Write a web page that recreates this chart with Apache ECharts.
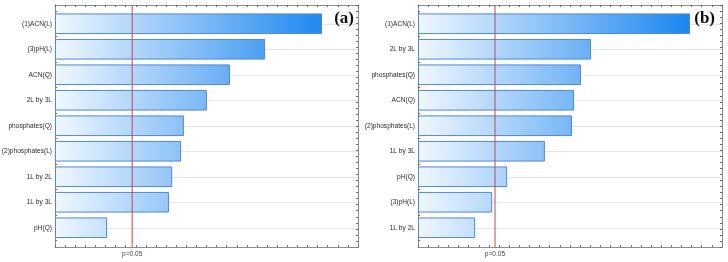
<!DOCTYPE html>
<html>
<head>
<meta charset="utf-8">
<script src="https://cdn.jsdelivr.net/npm/echarts@6/dist/echarts.min.js"></script>
<style>
html,body{margin:0;padding:0;background:#fff;}
#c{width:728px;height:262px;}
</style>
</head>
<body>
<div id="c"></div>
<script>
// ---- data ----
var catsA = ['(1)ACN(L)', '(3)pH(L)', 'ACN(Q)', '2L by 3L', 'phosphates(Q)', '(2)phosphates(L)', '1L by 2L', '1L by 3L', 'pH(Q)'];
var valsA = [6.61, 5.20, 4.33, 3.76, 3.19, 3.12, 2.90, 2.82, 1.29];
var catsB = ['(1)ACN(L)', '2L by 3L', 'phosphates(Q)', 'ACN(Q)', '(2)phosphates(L)', '1L by 3L', 'pH(Q)', '(3)pH(L)', '1L by 2L'];
var valsB = [6.71, 4.27, 4.02, 3.85, 3.80, 3.13, 2.20, 1.83, 1.41];
var pCritA = 1.91;
var pCritB = 1.90;
var pLabel = 'p=0.05';
var panelTags = ['(a)', '(b)'];
var xMax = 7.5;

// ---- styling helpers ----
var FONT = 'Liberation Sans, Arial, sans-serif';
var RED = '#cc4444';
var c0 = [240, 247, 255], c1 = [2, 121, 238];
function mix(f) {
  f = Math.max(0, Math.min(1, f));
  var r = Math.round(c0[0] + (c1[0] - c0[0]) * f);
  var g = Math.round(c0[1] + (c1[1] - c0[1]) * f);
  var b = Math.round(c0[2] + (c1[2] - c0[2]) * f);
  return 'rgb(' + r + ',' + g + ',' + b + ')';
}
function barColor(p) {
  var f = p.value / xMax;
  return new echarts.graphic.LinearGradient(0, 0, 1, 0, [
    {offset: 0, color: mix(0)},
    {offset: 1, color: mix(f)}
  ]);
}

var grids = [], xAxes = [], yAxes = [], series = [], titles = [];
function addPanel(left, width, cats, vals, pCrit, tag, tagRight) {
  var gFrame = grids.length;
  grids.push({left: left, top: 5, width: width, height: 242, outerBoundsMode: 'none', containLabel: false});
  var gBars = grids.length;
  grids.push({left: left, top: 11, width: width, height: 229.5, outerBoundsMode: 'none', containLabel: false});

  var xb = xAxes.length;
  function frameX(pos, withLabel) {
    return {
      type: 'value', gridIndex: gFrame, min: 0, max: xMax, interval: 0.25, position: pos,
      axisLine: {show: true, onZero: false, lineStyle: {color: '#8c8c8c', width: 1}},
      axisTick: {show: true, inside: true, length: 2, lineStyle: {color: '#666'}},
      axisLabel: withLabel ? {
        show: true, customValues: [pCrit], formatter: function () { return pLabel; },
        fontSize: 6.6, color: '#444', fontFamily: FONT, margin: 4
      } : {show: false},
      splitLine: {show: false}
    };
  }
  xAxes.push(frameX('bottom', true));
  xAxes.push(frameX('top', false));
  xAxes.push({type: 'value', gridIndex: gBars, min: 0, max: xMax, show: false});

  var yb = yAxes.length;
  yAxes.push({
    type: 'value', gridIndex: gFrame, min: 0, max: 1, position: 'left',
    axisLine: {show: true, onZero: false, lineStyle: {color: '#8c8c8c', width: 1}},
    axisTick: {show: false}, axisLabel: {show: false}, splitLine: {show: false}
  });
  yAxes.push({
    type: 'value', gridIndex: gFrame, min: 0, max: 1, interval: 0.025, position: 'right',
    axisLine: {show: true, onZero: false, lineStyle: {color: '#8c8c8c', width: 1}},
    axisTick: {show: true, inside: true, length: 2, lineStyle: {color: '#666'}},
    axisLabel: {show: false}, splitLine: {show: false}
  });
  yAxes.push({
    type: 'category', gridIndex: gBars, data: cats, inverse: true, position: 'left',
    axisLine: {show: false},
    axisTick: {show: true, inside: true, length: 2, lineStyle: {color: '#666'}},
    axisLabel: {fontSize: 6.6, color: '#2a2a2a', fontFamily: FONT, margin: 3},
    splitLine: {show: true, alignWithLabel: true, lineStyle: {color: '#e6e6e6', width: 1}}
  });

  series.push({
    type: 'bar', xAxisIndex: xb + 2, yAxisIndex: yb + 2, data: vals,
    barCategoryGap: '19%',
    itemStyle: {color: barColor, borderColor: '#4f88d4', borderWidth: 1},
    z: 2
  });
  // critical-value line (p = 0.05), spanning the whole frame
  series.push({
    type: 'line', xAxisIndex: xb, yAxisIndex: yb,
    data: [[pCrit, 0], [pCrit, 1]],
    color: RED,
    symbol: 'none',
    lineStyle: {color: RED, width: 1, type: 'solid', opacity: 1},
    silent: true, clip: false, z: 20
  });
  titles.push({
    text: tag, right: tagRight, top: 10, padding: 0,
    textStyle: {fontSize: 17, fontWeight: 'bold', fontFamily: 'Liberation Serif, Times New Roman, serif', color: '#111'}
  });
}

addPanel(55, 303, catsA, valsA, pCritA, panelTags[0], 374);
addPanel(418, 304, catsB, valsB, pCritB, panelTags[1], 13);

var chart = echarts.init(document.getElementById('c'), null, {renderer: 'canvas'});
chart.setOption({
  animation: false,
  backgroundColor: '#fff',
  title: titles,
  grid: grids,
  xAxis: xAxes,
  yAxis: yAxes,
  series: series
});
</script>
</body>
</html>
